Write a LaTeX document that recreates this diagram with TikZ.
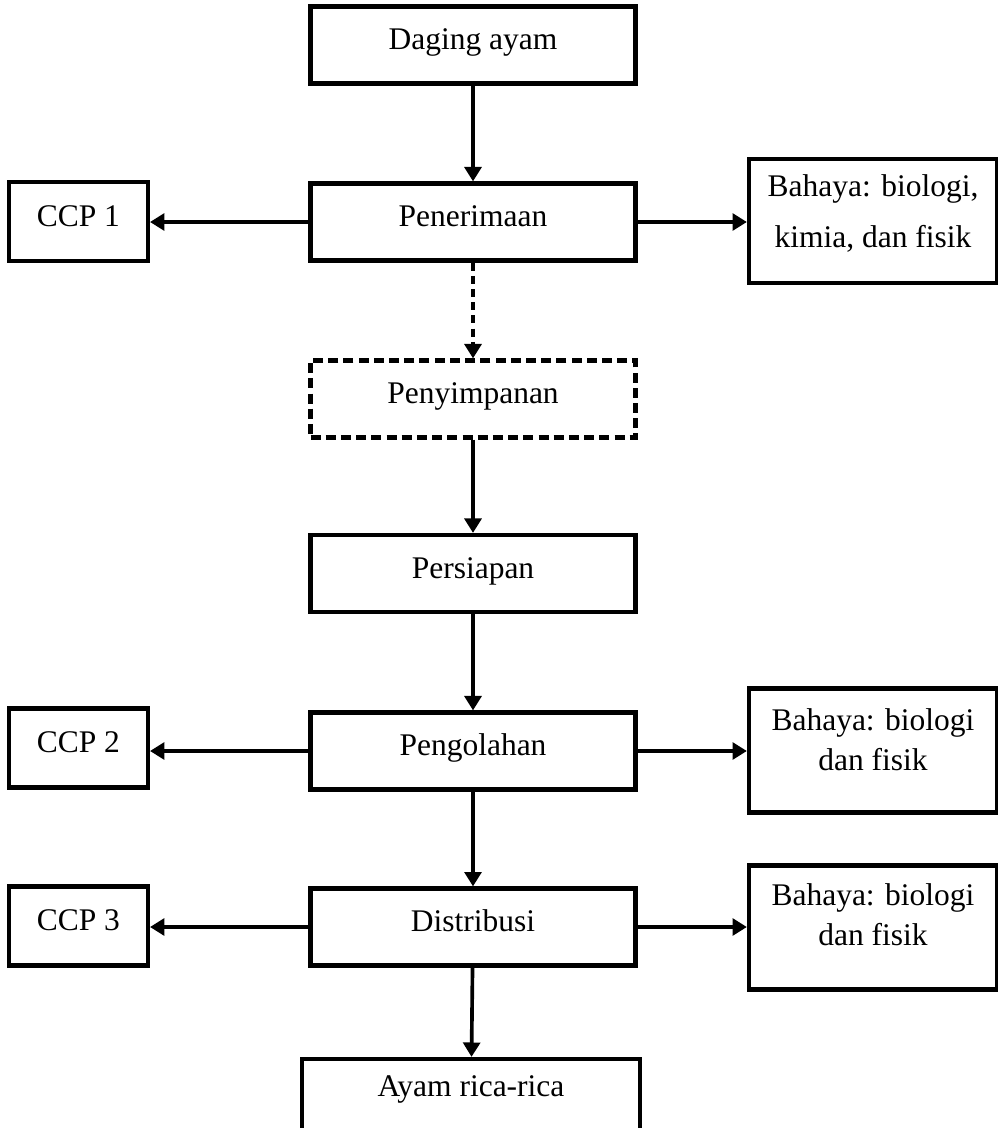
\documentclass[tikz,border=0pt]{standalone}
\usepackage{fontspec}
\setmainfont{Liberation Serif}
\usetikzlibrary{arrows.meta}

\begin{document}
\begin{tikzpicture}[
  box/.style={draw=black, line width=3pt, inner sep=0pt, minimum width=8.125cm, minimum height=1.925cm, text height=0.6cm, text depth=0.375cm, font=\fontsize{22.4}{27}\selectfont},
  ccpbox/.style={box, minimum width=3.475cm, minimum height=1.975cm},
  hazard/.style={box, minimum width=6.2cm, minimum height=3.1cm, align=center},
  flow/.style={line width=2.6pt, -{Triangle[length=0.36cm,width=0.42cm]}}
  ]
  \def\xm{11.825}
  \def\xl{1.96}
  \def\xr{21.825}

  \useasboundingbox (0,0) rectangle (24.95,-28.2);

  %Main column
  \node[box] (daging) at (\xm,-1.125) {Daging ayam};
  \node[box] (penerimaan) at (\xm,-5.55) {Penerimaan};
  \node[box, dash pattern=on 0.25cm off 0.13cm] (penyimpanan) at (\xm,-9.975) {Penyimpanan};
  \node[box] (persiapan) at (\xm,-14.3375) {Persiapan};
  \node[box] (pengolahan) at (\xm,-18.775) {Pengolahan};
  \node[box] (distribusi) at (\xm,-23.175) {Distribusi};
  \node[box, minimum width=8.45cm, minimum height=2.1cm, text depth=0.85cm] (ayam) at (11.775,-27.525) {Ayam rica-rica};

  %CCP boxes
  \node[ccpbox] (ccp1) at (\xl,-5.5375) {CCP 1};
  \node[ccpbox] (ccp2) at (\xl,-18.7) {CCP 2};
  \node[ccpbox] (ccp3) at (\xl,-23.15) {CCP 3};

  %Hazards
  \node[hazard, text height=1.85cm, text depth=0.55cm, font=\fontsize{22.4}{35.6}\selectfont] (bahaya1) at (\xr,-5.525) {Bahaya: biologi,\\kimia, dan fisik};
  \node[hazard, text height=1.6cm, text depth=0.625cm, font=\fontsize{22.4}{28.45}\selectfont] (bahaya2) at (\xr,-18.7625) {Bahaya: biologi\\dan fisik};
  \node[hazard, text height=1.6cm, text depth=0.725cm, font=\fontsize{22.4}{28.45}\selectfont] (bahaya3) at (\xr,-23.1875) {Bahaya: biologi\\dan fisik};

  %Arrows down
  \draw[flow] (daging) -- (penerimaan);
  \draw[flow, dash pattern=on 0.2cm off 0.13cm] (penerimaan) -- (penyimpanan);
  \draw[flow] (penyimpanan) -- (persiapan);
  \draw[flow] (persiapan) -- (pengolahan);
  \draw[flow] (pengolahan) -- (distribusi);
  \draw[flow] (distribusi) -- (ayam);

  %Arrows to the sides
  \draw[flow] (penerimaan.west) -- (ccp1.east |- penerimaan.west);
  \draw[flow] (penerimaan.east) -- (bahaya1.west |- penerimaan.east);
  \draw[flow] (pengolahan.west) -- (ccp2.east |- pengolahan.west);
  \draw[flow] (pengolahan.east) -- (bahaya2.west |- pengolahan.east);
  \draw[flow] (distribusi.west) -- (ccp3.east |- distribusi.west);
  \draw[flow] (distribusi.east) -- (bahaya3.west |- distribusi.east);

\end{tikzpicture}
\end{document}
